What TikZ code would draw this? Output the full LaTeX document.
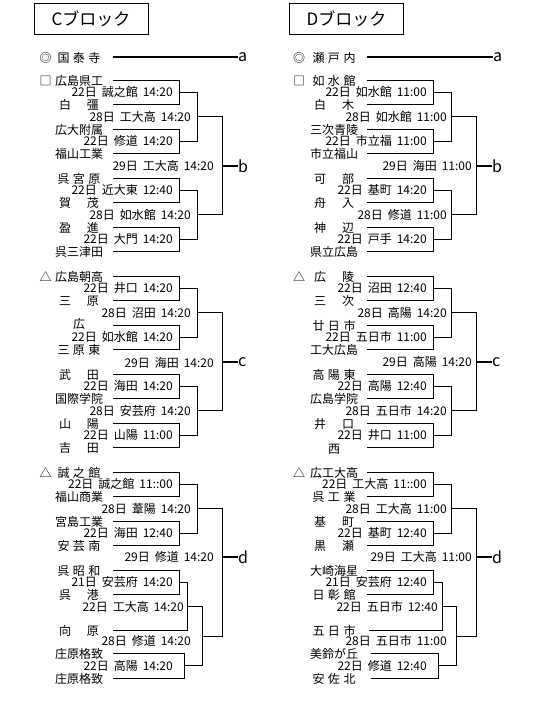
\documentclass[tikz,border=0pt]{standalone}
\usepackage{fontspec}
\setmainfont{Noto Sans CJK JP}
\newcommand\gap{\hspace{5pt}}
\newcommand\lab[3]{#1日\gap#2\gap#3}
\newcommand\twoc[2]{\makebox[40pt][s]{#1\hfill#2}}
\newcommand\thrc[3]{\makebox[43pt][s]{#1\hfill#2\hfill#3}}
\newcommand\brk[4]{\draw[ln] (#1,#3) -| (#2,#4) -- (#1,#4);}
\begin{document}
\begin{tikzpicture}[x=1pt,y=-1pt,
  ln/.style={line width=0.8pt},
  thk/.style={line width=2.2pt},
  aline/.style={line width=1.7pt},
  nm/.style={inner sep=0pt, font=\fontsize{12}{12}\selectfont, text height=10pt, text depth=1.5pt},
  lbl/.style={nm, anchor=east},
  tag/.style={inner sep=0pt, anchor=west, font=\fontsize{16}{16}\selectfont},
  ttl/.style={draw, line width=0.8pt, minimum width=114pt, minimum height=31pt, inner sep=0pt, font=\fontsize{17}{17}\selectfont}]
\useasboundingbox (0,0) rectangle (540,701);

% ---------- titles ----------
\node[ttl] (tC) at (91,18.5) {Cブロック};
\node[ttl] (tD) at (346.5,18.5) {Dブロック};

% ---------- seeds ----------
\node[nm] (sCm) at (45.5,58) {◎};
\node[nm] (sC) at (79,58) {\thrc{国}{泰}{寺}};
\node[tag] (aC) at (238,57) {a};
\coordinate (aCs) at (113,57);
\draw[aline] (aCs) -- (aC.west);

\node[nm] (sDm) at (299,58) {◎};
\node[nm] (sD) at (334,58) {\thrc{瀬}{戸}{内}};
\node[tag] (aD) at (493,57) {a};
\coordinate (aDs) at (367,57);
\draw[aline] (aDs) -- (aD.west);

% ================= LEFT (C) =================
% names
\node[nm] (cm0) at (45.5,81) {□};
\node[nm] (c0) at (79,81) {広島県工};
\node[nm] (c1) at (79,105.5) {\twoc{白}{彊}};
\node[nm] (c2) at (79,130) {広大附属};
\node[nm] (c3) at (79,154.5) {福山工業};
\node[nm] (c4) at (79,179) {\thrc{呉}{宮}{原}};
\node[nm] (c5) at (79,203.5) {\twoc{賀}{茂}};
\node[nm] (c6) at (79,228) {\twoc{盈}{進}};
\node[nm] (c7) at (79,252.5) {呉三津田};
\node[nm] (cm8) at (45.5,277) {△};
\node[nm] (c8) at (79,277) {広島朝高};
\node[nm] (c9) at (79,301.5) {\twoc{三}{原}};
\node[nm] (c10) at (79,324) {広};
\node[nm] (c11) at (79,350.5) {\thrc{三}{原}{東}};
\node[nm] (c12) at (79,375) {\twoc{武}{田}};
\node[nm] (c13) at (79,399.5) {国際学院};
\node[nm] (c14) at (79,424) {\twoc{山}{陽}};
\node[nm] (c15) at (79,448.5) {\twoc{吉}{田}};
\node[nm] (cm16) at (45.5,473) {△};
\node[nm] (c16) at (79,473) {\thrc{誠}{之}{館}};
\node[nm] (c17) at (79,497.5) {福山商業};
\node[nm] (c18) at (79,522) {宮島工業};
\node[nm] (c19) at (79,546.5) {\thrc{安}{芸}{南}};
\node[nm] (c20) at (79,571) {\thrc{呉}{昭}{和}};
\node[nm] (c21) at (79,595.5) {\twoc{呉}{港}};
\node[nm] (c22) at (79,631) {\twoc{向}{原}};
\node[nm] (c23) at (79,654) {庄原格致};
\node[nm] (c24) at (79,679) {庄原格致};

% brackets group b
\brk{113}{179}{80}{104.5}
\brk{113}{179}{129}{153.5}
\brk{113}{179}{178}{202.5}
\brk{113}{179}{227}{251.5}
\brk{179}{197}{92.25}{141.25}
\brk{179}{197}{190.25}{239.25}
\brk{197}{222}{116.75}{214.75}
\node[tag] (bC) at (238,165.75) {b};
\draw[thk] (222,165.75) -- (bC.west);
% group c
\brk{113}{179}{276}{300.5}
\brk{113}{179}{325}{349.5}
\brk{113}{179}{374}{398.5}
\brk{113}{179}{423}{447.5}
\brk{179}{197}{288.25}{337.25}
\brk{179}{197}{386.25}{435.25}
\brk{197}{222}{312.75}{410.75}
\node[tag] (cC) at (238,361.75) {c};
\draw[thk] (222,361.75) -- (cC.west);
% group d
\brk{113}{179}{472}{496.5}
\brk{113}{179}{521}{545.5}
\brk{179}{197}{484.25}{533.25}
\brk{113}{179}{570}{594.5}
\draw[ln] (179,582.25) -| (187,630) -- (113,630);
\brk{113}{184}{653}{678}
\draw[ln] (187,606.1) -| (202,665.5) -- (184,665.5);
\draw[ln] (197,508.75) -| (222,636) -- (202,636);
\node[tag] (dC) at (238,557) {d};
\draw[thk] (222,557) -- (dC.west);

% labels C
\node[lbl] (lc1) at (173,92.25) {\lab{22}{誠之館}{14:20}};
\node[lbl] (lc2) at (191,116.75) {\lab{28}{工大高}{14:20}};
\node[lbl] (lc3) at (173,141.25) {\lab{22}{修道}{14:20}};
\node[lbl] (lc4) at (214,166.5) {\lab{29}{工大高}{14:20}};
\node[lbl] (lc5) at (173,190.25) {\lab{22}{近大東}{12:40}};
\node[lbl] (lc6) at (191,214.75) {\lab{28}{如水館}{14:20}};
\node[lbl] (lc7) at (173,239.25) {\lab{22}{大門}{14:20}};
\node[lbl] (lc8) at (173,288.25) {\lab{22}{井口}{14:20}};
\node[lbl] (lc9) at (191,312.75) {\lab{28}{沼田}{14:20}};
\node[lbl] (lc10) at (173,337.25) {\lab{22}{如水館}{14:20}};
\node[lbl] (lc11) at (214,363.5) {\lab{29}{海田}{14:20}};
\node[lbl] (lc12) at (173,386.25) {\lab{22}{海田}{14:20}};
\node[lbl] (lc13) at (191,411.5) {\lab{28}{安芸府}{14:20}};
\node[lbl] (lc14) at (173,435.25) {\lab{22}{山陽}{11:00}};
\node[lbl] (lc15) at (173,484.25) {\lab{22}{誠之館}{11::00}};
\node[lbl] (lc16) at (191,508.75) {\lab{28}{葦陽}{14:20}};
\node[lbl] (lc17) at (173,533.25) {\lab{22}{海田}{12:40}};
\node[lbl] (lc18) at (214,557.5) {\lab{29}{修道}{14:20}};
\node[lbl] (lc19) at (173,582.5) {\lab{21}{安芸府}{14:20}};
\node[lbl] (lc20) at (184,607) {\lab{22}{工大高}{14:20}};
\node[lbl] (lc21) at (191,641) {\lab{28}{修道}{14:20}};
\node[lbl] (lc22) at (173,666.5) {\lab{22}{高陽}{14:20}};

% ================= RIGHT (D) =================
\node[nm] (dm0) at (299,81) {□};
\node[nm] (d0) at (334,81) {\thrc{如}{水}{館}};
\node[nm] (d1) at (334,105.5) {\twoc{白}{木}};
\node[nm] (d2) at (334,130) {三次青陵};
\node[nm] (d3) at (334,154.5) {市立福山};
\node[nm] (d4) at (334,179) {\twoc{可}{部}};
\node[nm] (d5) at (334,203.5) {\twoc{舟}{入}};
\node[nm] (d6) at (334,228) {\twoc{神}{辺}};
\node[nm] (d7) at (334,252.5) {県立広島};
\node[nm] (dm8) at (299,277) {△};
\node[nm] (d8) at (334,277) {\twoc{広}{陵}};
\node[nm] (d9) at (334,301.5) {\twoc{三}{次}};
\node[nm] (d10) at (334,326) {\thrc{廿}{日}{市}};
\node[nm] (d11) at (334,350.5) {工大広島};
\node[nm] (d12) at (334,375) {\thrc{高}{陽}{東}};
\node[nm] (d13) at (334,399.5) {広島学院};
\node[nm] (d14) at (334,424) {\twoc{井}{口}};
\node[nm] (d15) at (334,449) {西};
\node[nm] (dm16) at (299,473) {△};
\node[nm] (d16) at (334,473) {広工大高};
\node[nm] (d17) at (334,497.5) {\thrc{呉}{工}{業}};
\node[nm] (d18) at (334,522) {\twoc{基}{町}};
\node[nm] (d19) at (334,546.5) {\twoc{黒}{瀬}};
\node[nm] (d20) at (334,571) {大崎海星};
\node[nm] (d21) at (334,595.5) {\thrc{日}{彰}{館}};
\node[nm] (d22) at (334,631) {\thrc{五}{日}{市}};
\node[nm] (d23) at (334,654) {美鈴が丘};
\node[nm] (d24) at (334,679) {\thrc{安}{佐}{北}};

% brackets group b
\brk{367}{433}{80}{104.5}
\brk{367}{433}{129}{153.5}
\brk{367}{433}{178}{202.5}
\brk{367}{433}{227}{251.5}
\brk{433}{451}{92.25}{141.25}
\brk{433}{451}{190.25}{239.25}
\brk{451}{476}{116.75}{214.75}
\node[tag] (bD) at (492,165.75) {b};
\draw[thk] (476,165.75) -- (bD.west);
% group c
\brk{367}{433}{276}{300.5}
\brk{367}{433}{325}{349.5}
\brk{367}{433}{374}{398.5}
\brk{367}{433}{423}{447.5}
\brk{433}{451}{288.25}{337.25}
\brk{433}{451}{386.25}{435.25}
\brk{451}{476}{312.75}{410.75}
\node[tag] (cD) at (492,361.75) {c};
\draw[thk] (476,361.75) -- (cD.west);
% group d
\brk{367}{433}{472}{496.5}
\brk{367}{433}{521}{545.5}
\brk{433}{451}{484.25}{533.25}
\brk{367}{433}{570}{594.5}
\draw[ln] (433,582.25) -| (442,630) -- (369,630);
\brk{371}{438}{653}{678}
\draw[ln] (442,606.1) -| (456,665.5) -- (438,665.5);
\draw[ln] (451,508.75) -| (476,636) -- (456,636);
\node[tag] (dD) at (492,557) {d};
\draw[thk] (476,557) -- (dD.west);

% labels D
\node[lbl] (ld1) at (427,92.25) {\lab{22}{如水館}{11:00}};
\node[lbl] (ld2) at (447,116.75) {\lab{28}{如水館}{11:00}};
\node[lbl] (ld3) at (427,141.25) {\lab{22}{市立福}{11:00}};
\node[lbl] (ld4) at (472,166.5) {\lab{29}{海田}{11:00}};
\node[lbl] (ld5) at (427,190.25) {\lab{22}{基町}{14:20}};
\node[lbl] (ld6) at (447,214.75) {\lab{28}{修道}{11:00}};
\node[lbl] (ld7) at (427,239.25) {\lab{22}{戸手}{14:20}};
\node[lbl] (ld8) at (427,288.25) {\lab{22}{沼田}{12:40}};
\node[lbl] (ld9) at (447,312.75) {\lab{28}{高陽}{14:20}};
\node[lbl] (ld10) at (427,337.25) {\lab{22}{五日市}{11:00}};
\node[lbl] (ld11) at (472,362.5) {\lab{29}{高陽}{14:20}};
\node[lbl] (ld12) at (427,386.25) {\lab{22}{高陽}{12:40}};
\node[lbl] (ld13) at (447,411.5) {\lab{28}{五日市}{14:20}};
\node[lbl] (ld14) at (427,435.25) {\lab{22}{井口}{11:00}};
\node[lbl] (ld15) at (427,484.25) {\lab{22}{工大高}{11::00}};
\node[lbl] (ld16) at (447,508.75) {\lab{28}{工大高}{11:00}};
\node[lbl] (ld17) at (427,533.25) {\lab{22}{基町}{12:40}};
\node[lbl] (ld18) at (472,557.5) {\lab{29}{工大高}{11:00}};
\node[lbl] (ld19) at (427,582.5) {\lab{21}{安芸府}{12:40}};
\node[lbl] (ld20) at (438,607) {\lab{22}{五日市}{12:40}};
\node[lbl] (ld21) at (447,641) {\lab{28}{五日市}{11:00}};
\node[lbl] (ld22) at (427,666.5) {\lab{22}{修道}{12:40}};
\end{tikzpicture}
\end{document}
